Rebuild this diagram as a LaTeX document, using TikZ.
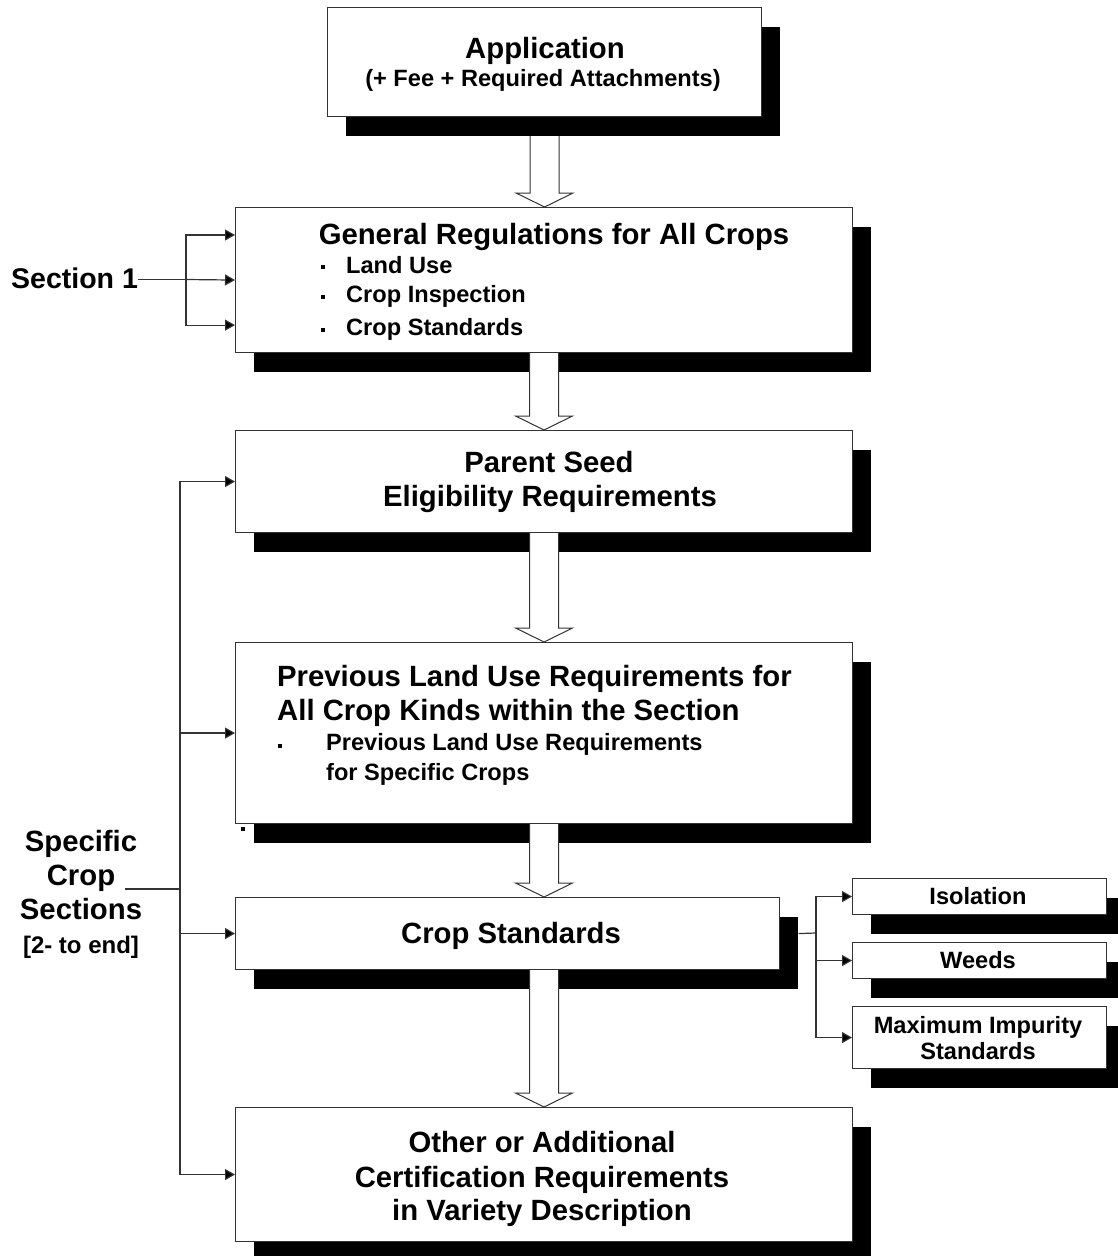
\documentclass[tikz,border=0pt]{standalone}
\usepackage{fontspec}
\setmainfont{Liberation Sans}
\usetikzlibrary{arrows.meta,calc,shadows}
\newcommand\Tfont{\fontsize{29.3pt}{34pt}\selectfont\bfseries}
\newcommand\Sfont{\fontsize{23.6pt}{29pt}\selectfont\bfseries}
\newcommand\blockarrow[2]{%
  \path[harrow] let \p1=(#1), \p2=(#2) in
   (\x1-14.5pt,\y1) -- (\x1-14.5pt,\y2+14pt) -- (\x1-28.5pt,\y2+14pt) -- (\x1,\y2)
   -- (\x1+28.5pt,\y2+14pt) -- (\x1+14.5pt,\y2+14pt) -- (\x1+14.5pt,\y1);}
\begin{document}
\begin{tikzpicture}[x=1pt,y=-1pt,
  box/.style={draw=black!80, line width=1.1pt, fill=white, rectangle, inner sep=0pt,
    anchor=north west,
    drop shadow={shadow xshift=18.5pt, shadow yshift=-19pt, fill=black, opacity=1}},
  ttl/.style={font=\Tfont, inner sep=0pt, anchor=base},
  sub/.style={font=\Sfont, inner sep=0pt, anchor=base},
  conn/.style={draw=black!80, line width=1.2pt},
  arr/.style={conn, -{Triangle[length=10pt,width=11pt,fill=black]}},
  harrow/.style={draw=black!80, line width=1pt, fill=white},
  bulletsq/.style={fill=black, minimum size=4pt, inner sep=0pt, rectangle}
]
\useasboundingbox (0,0) rectangle (1118,1256);

% boxes
\node[box, minimum width=434pt, minimum height=109pt] (b1) at (327,7) {};
\node[box, minimum width=617pt, minimum height=145pt] (b2) at (235,207) {};
\node[box, minimum width=617pt, minimum height=102pt] (b3) at (235,430) {};
\node[box, minimum width=617pt, minimum height=181pt] (b4) at (235,642) {};
\node[box, minimum width=544pt, minimum height=72pt] (b5) at (235,897) {};
\node[box, minimum width=617pt, minimum height=134pt] (b6) at (235,1107) {};
\node[box, minimum width=254pt, minimum height=36pt] (iso) at (852,878) {};
\node[box, minimum width=254pt, minimum height=36pt] (wee) at (852,942) {};
\node[box, minimum width=254pt, minimum height=62pt] (mis) at (852,1006) {};

% texts
\node[ttl] (t1a) at (545,58) {Application};
\node[sub] (t1b) at (543,86) {(+ Fee + Required Attachments)};

\node[ttl] (t2) at (554,244) {General Regulations for All Crops};
\node[bulletsq] (d2a) at (323,267) {};
\node[bulletsq] (d2b) at (323,297) {};
\node[bulletsq] (d2c) at (323,330) {};
\node[sub, anchor=base west] (t2a) at (346,273) {Land Use};
\node[sub, anchor=base west] (t2b) at (346,302) {Crop Inspection};
\node[sub, anchor=base west] (t2c) at (346,335) {Crop Standards};

\node[ttl] (t3a) at (549,472) {Parent Seed};
\node[ttl] (t3b) at (550,506) {Eligibility Requirements};

\node[ttl, anchor=base west] (t4a) at (277,686) {Previous Land Use Requirements for};
\node[ttl, anchor=base west] (t4b) at (277,720) {All Crop Kinds within the Section};
\node[bulletsq] (d4) at (280,746) {};
\node[sub, anchor=base west] (t4c) at (326,750) {Previous Land Use Requirements};
\node[sub, anchor=base west] (t4d) at (326,780) {for Specific Crops};
\node[bulletsq] (stray) at (243,829) {};

\node[ttl] (t5) at (511,943) {Crop Standards};

\node[ttl] (t6a) at (542,1152) {Other or Additional};
\node[ttl] (t6b) at (542,1187) {Certification Requirements};
\node[ttl] (t6c) at (542,1220) {in Variety Description};

\node[sub] (tiso) at (978,904) {Isolation};
\node[sub] (twee) at (978,968) {Weeds};
\node[sub] (tmis1) at (978,1033) {Maximum Impurity};
\node[sub] (tmis2) at (978,1059) {Standards};

\node[ttl, font=\fontsize{28.5pt}{34pt}\selectfont\bfseries, anchor=base west] (sec1) at (11,288) {Section 1};
\node[ttl, align=center, anchor=north] (spec) at (81,830) {Specific\\Crop\\Sections\\{\fontsize{24pt}{29pt}\selectfont [2- to end]}};

% block arrows
\blockarrow{$(b1.south)+(0,19)$}{b1.south |- b2.north}
\blockarrow{b2.south}{b3.north}
\blockarrow{b3.south}{b4.north}
\blockarrow{b4.south}{b4.south |- b5.north}
\blockarrow{b6.north |- b5.south}{b6.north}

% section 1 connectors
\coordinate (j1) at (186,279.5);
\draw[conn] (sec1.east |- j1) -- (j1);
\draw[arr] (j1) |- ($(b2.north west)+(0,28)$);
\draw[arr] (j1) -- (b2.west);
\draw[arr] (j1) |- ($(b2.south west)+(0,-28)$);

% specific crop connectors
\coordinate (j2) at (180,889);
\coordinate (sp0) at (125,889);
\draw[conn] (sp0) -- (j2);
\draw[arr] (j2) |- (b3.west);
\draw[arr] (j2) |- (b4.west);
\draw[arr] (j2) |- (b5.west);
\draw[arr] (j2) |- (b6.west);

% crop standards connectors
\coordinate (r0) at ($(b5.east)+(18.5,0)$);
\coordinate (j3) at (816,933);
\draw[conn] (r0) -- (j3);
\draw[arr] (j3) |- (iso.west);
\draw[arr] (j3) |- (wee.west);
\draw[arr] (j3) |- (mis.west);
\end{tikzpicture}
\end{document}
